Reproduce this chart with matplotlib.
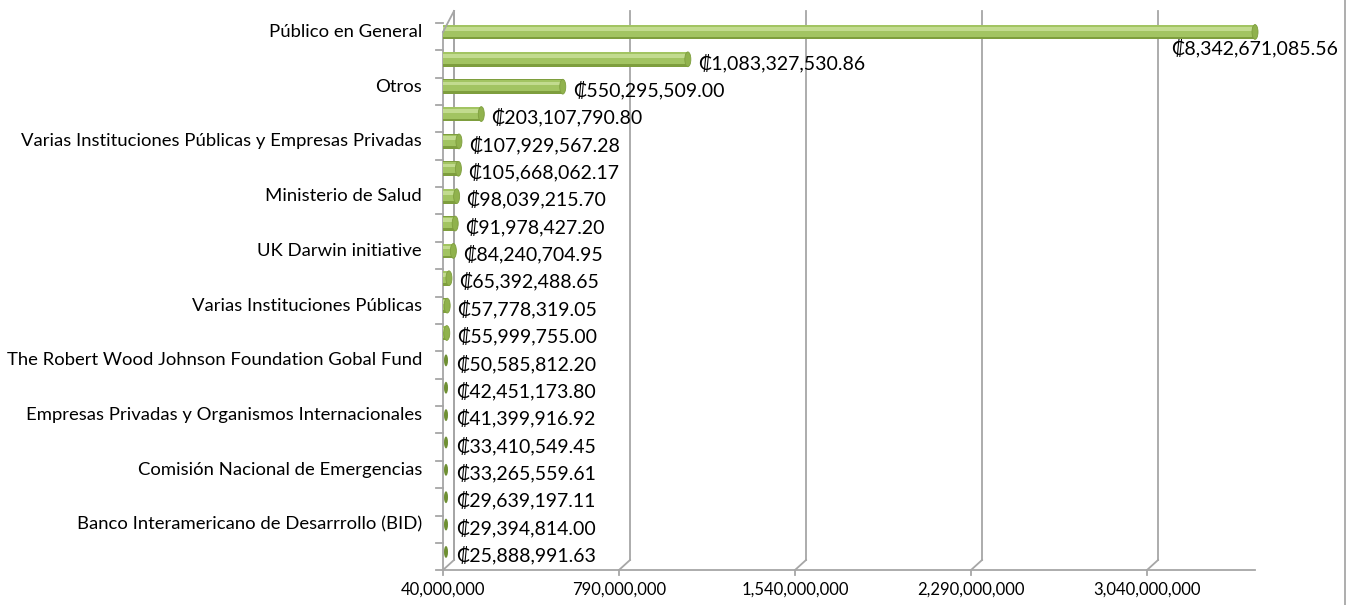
import matplotlib
matplotlib.use('Agg')
import matplotlib.pyplot as plt
import matplotlib.transforms as mtransforms
from matplotlib.patches import Ellipse
from matplotlib.lines import Line2D

plt.rcParams['font.family'] = ['Lato', 'DejaVu Sans']

# categorias (solo se muestra una de cada dos etiquetas, como en el original)
categorias = ['Público en General', '', 'Otros', '',
              'Varias Instituciones Públicas y Empresas Privadas', '',
              'Ministerio de Salud', '', 'UK Darwin initiative', '',
              'Varias Instituciones Públicas', '',
              'The Robert Wood Johnson Foundation Gobal Fund', '',
              'Empresas Privadas y Organismos Internacionales', '',
              'Comisión Nacional de Emergencias', '',
              'Banco Interamericano de Desarrrollo (BID)', '']
montos = [8342671085.56, 1083327530.86, 550295509.00, 203107790.80,
          107929567.28, 105668062.17, 98039215.70, 91978427.20,
          84240704.95, 65392488.65, 57778319.05, 55999755.00,
          50585812.20, 42451173.80, 41399916.92, 33410549.45,
          33265559.61, 29639197.11, 29394814.00, 25888991.63]
ticks_x = [40000000, 790000000, 1540000000, 2290000000, 3040000000]
x_min, x_max = 40000000, 3500000000

gris = '#A6A6A6'
verde = '#A2C462'
verde_osc = '#7E9E3E'
verde_cla = '#C2DB8F'
verde_punta = '#6E8F32'

fig = plt.figure(figsize=(13.53, 6.05), dpi=100)
ax = fig.add_axes([443 / 1353, 35 / 605, (1255 - 443) / 1353, (584 - 35) / 605])
ax.set_xlim(x_min, x_max)
n = len(montos)
ax.set_ylim(n - 0.34, -0.40)
ax.axis('off')

# desplazamiento de la pared del fondo (efecto 3D)
fondo = mtransforms.ScaledTranslation(0.11, 0.10, fig.dpi_scale_trans)
mezcla = mtransforms.blended_transform_factory(ax.transData, ax.transAxes)
mezcla_y = mtransforms.blended_transform_factory(ax.transAxes, ax.transData)

for t in ticks_x:
    ax.plot([t, t], [0, 1], color=gris, lw=1.3, transform=mezcla + fondo, clip_on=False)
    # diagonal del piso hacia la pared
    p0 = mezcla.transform((t, 0))
    p1 = (mezcla + fondo).transform((t, 0))
    fig.add_artist(Line2D([p0[0], p1[0]], [p0[1], p1[1]], color=gris, lw=1.3,
                          transform=None))
    # marca de graduacion
    fig.add_artist(Line2D([p0[0], p0[0]], [p0[1], p0[1] - 5], color=gris, lw=1.3,
                          transform=None))
    ax.text(t, -0.022, '{:,.0f}'.format(t), transform=mezcla, ha='center', va='top',
            fontsize=12)

# piso y pared izquierda
ax.plot([x_min, x_max], [0, 0], color=gris, lw=1.3, transform=mezcla, clip_on=False)
ax.plot([x_min, x_min], [0, 0.98], color=gris, lw=1.3, transform=mezcla, clip_on=False)
ax.plot([x_min, x_min], [0.0, 1], color=gris, lw=1.3, transform=mezcla + fondo,
        clip_on=False)
p0 = mezcla.transform((x_min, 0.98))
p1 = (mezcla + fondo).transform((x_min, 1))
fig.add_artist(Line2D([p0[0], p1[0]], [p0[1], p1[1]], color=gris, lw=1.3, transform=None))
for k in range(n + 1):
    ax.plot([-0.009, 0], [k - 0.33, k - 0.33], color=gris, lw=1.3, transform=mezcla_y,
            clip_on=False)

# escala px -> datos para los extremos de los cilindros
px = (x_max - x_min) / (1255 - 443)
alto = 0.54

for i, (cat, v) in enumerate(zip(categorias, montos)):
    fin = min(max(v, x_min), x_max)
    largo = fin - x_min
    if largo > 3 * px:
        ax.barh(i, largo, left=x_min, height=alto, color=verde_osc, lw=0, zorder=2)
        ax.barh(i - 0.04, largo, left=x_min, height=alto * 0.78, color=verde, lw=0, zorder=2)
        ax.barh(i - 0.12, largo, left=x_min, height=alto * 0.25, color=verde_cla, lw=0,
                zorder=2)
        ax.add_patch(Ellipse((fin, i), 6 * px, alto, facecolor='#90B24D',
                             edgecolor=verde_osc, lw=0.6, clip_on=False, zorder=3))
    else:
        ax.add_patch(Ellipse((x_min + 3 * px, i), 4 * px, alto * 0.8, facecolor=verde_punta,
                             edgecolor='none', clip_on=False, zorder=3))
    etiqueta = '₡{:,.2f}'.format(v)
    if v > x_max:
        ax.text(x_max, i + 0.6, etiqueta, ha='center', va='center', fontsize=14)
    else:
        ax.text(max(fin, x_min + 3 * px) + 10 * px, i + 0.12, etiqueta, ha='left',
                va='center', fontsize=14)
    if cat:
        ax.text(-0.026, i, cat, transform=mezcla_y, ha='right', va='center',
                fontsize=13.3)

# borde derecho del area del grafico
fig.add_artist(Line2D([1345 / 1353, 1345 / 1353], [0, 1], color='#A0A0A0', lw=1.2,
                      transform=fig.transFigure))

plt.savefig('out.png', dpi=100)
